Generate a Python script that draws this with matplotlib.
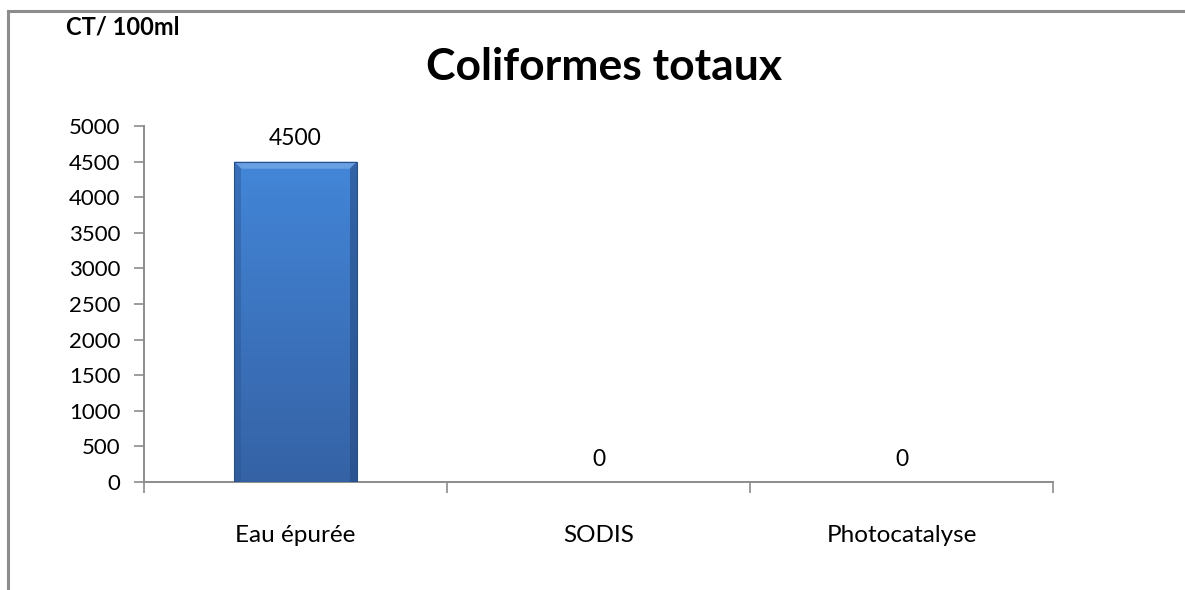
import matplotlib
matplotlib.use("Agg")
import matplotlib.pyplot as plt
import numpy as np
from matplotlib.patches import Rectangle

categories = ["Eau épurée", "SODIS", "Photocatalyse"]
values = [4500, 0, 0]
y_ticks = [0, 500, 1000, 1500, 2000, 2500, 3000, 3500, 4000, 4500, 5000]

plt.rcParams["font.family"] = ["Lato", "DejaVu Sans"]

W, H = 1185, 590
fig = plt.figure(figsize=(W / 100, H / 100), dpi=100)
fig.patch.set_facecolor("white")

# chart frame (left and top edges)
frame_col = "#8c8c8c"
fig.add_artist(plt.Line2D([8 / W, 8 / W], [0, 1 - 10.5 / H], color=frame_col, lw=2.2,
                          transform=fig.transFigure))
fig.add_artist(plt.Line2D([8 / W, 1], [1 - 10.5 / H, 1 - 10.5 / H], color=frame_col, lw=2.2,
                          transform=fig.transFigure))

left, right = 144 / W, 1053 / W
bottom, top = 1 - 482 / H, 1 - 126 / H
ax = fig.add_axes([left, bottom, right - left, top - bottom])

x = np.arange(len(categories))
bar_w = 0.406
bars = ax.bar(x, values, width=bar_w, color="#3b74c2", zorder=2)

# vertical gradient with bevelled edges inside each bar
grad = np.linspace(0, 1, 256).reshape(-1, 1)
cmap = matplotlib.colors.LinearSegmentedColormap.from_list("barfill", ["#3562a5", "#4386d8"])
for b in bars:
    h = b.get_height()
    if h <= 0:
        continue
    x0, w = b.get_x(), b.get_width()
    im = ax.imshow(grad, extent=[x0, x0 + w, 0, h], origin="lower", aspect="auto",
                   cmap=cmap, zorder=3)
    im.set_clip_path(b)
    # side shading
    sw = w * 0.06
    ax.add_patch(Rectangle((x0, 0), sw, h, color="#2c5694", alpha=0.45, lw=0, zorder=4))
    ax.add_patch(Rectangle((x0 + w - sw, 0), sw, h, color="#24477d", alpha=0.55, lw=0, zorder=4))
    # top bevel
    ax.fill([x0, x0 + w, x0 + w - sw, x0 + sw], [h, h, h - 100, h - 100],
            color="#6ea4e6", alpha=0.9, lw=0, zorder=4)
    ax.add_patch(Rectangle((x0, 0), w, h, fill=False, ec="#2a4e86", lw=0.8, zorder=5))

ax.set_xlim(-0.5, len(categories) - 0.5)
ax.set_ylim(0, 5000)
ax.set_yticks(y_ticks)
ax.set_yticklabels([str(v) for v in y_ticks], fontsize=16)

# category boundaries as tick marks, labels centered under each category
ax.set_xticks(np.arange(len(categories) + 1) - 0.5)
ax.set_xticklabels([])
ax.set_xticks(x, minor=True)
ax.set_xticklabels(categories, minor=True, fontsize=17.5)
ax.tick_params(axis="x", which="minor", length=0, pad=31)
ax.tick_params(axis="x", which="major", length=8, width=1.2, color="#8c8c8c", direction="out")
ax.tick_params(axis="y", length=7, width=1.2, color="#8c8c8c", direction="out", pad=10)

for s in ["top", "right"]:
    ax.spines[s].set_visible(False)
for s in ["left", "bottom"]:
    ax.spines[s].set_color("#8c8c8c")
    ax.spines[s].set_linewidth(1.4)

for xi, v in zip(x, values):
    ax.annotate(str(v), (xi, v), xytext=(0, 9), textcoords="offset points",
                ha="center", va="bottom", fontsize=16.5)

fig.text(604 / W, 1 - 67 / H, "Coliformes totaux", ha="center", va="center",
         fontsize=32, fontweight="bold")
fig.text(66 / W, 1 - 27 / H, "CT/ 100ml", ha="left", va="center",
         fontsize=17, fontweight="bold")

fig.savefig("out.png", dpi=100)
